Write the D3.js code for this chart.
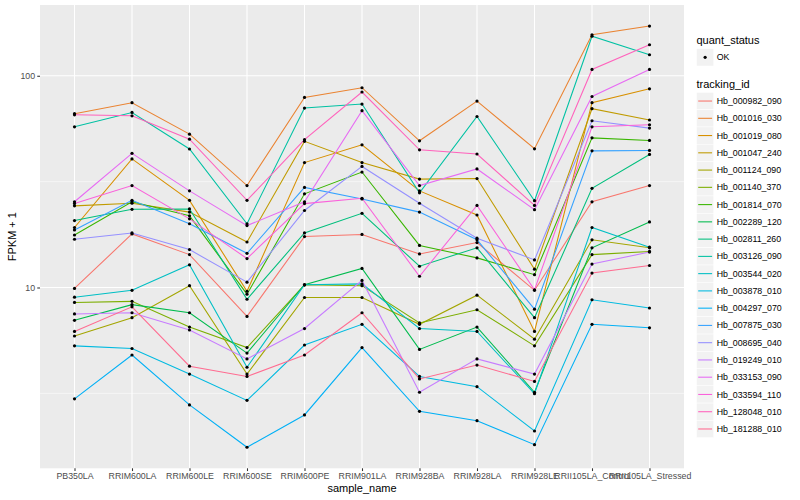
<!DOCTYPE html>
<html>
<head>
<meta charset="utf-8">
<script src="https://cdn.jsdelivr.net/npm/d3@7"></script>
<style>
  body { margin: 0; background: #fff; }
  svg { display: block; font-family: "Liberation Sans", Arial, Helvetica, sans-serif; }
</style>
</head>
<body>
<svg id="chart" width="800" height="500"></svg>
<script>
const samples = ["PB350LA", "RRIM600LA", "RRIM600LE", "RRIM600SE", "RRIM600PE", "RRIM901LA",
  "RRIM928BA", "RRIM928LA", "RRIM928LE", "RRII105LA_Control", "RRII105LA_Stressed"];

const trackingIds = ["Hb_000982_090", "Hb_001016_030", "Hb_001019_080", "Hb_001047_240",
  "Hb_001124_090", "Hb_001140_370", "Hb_001814_070", "Hb_002289_120", "Hb_002811_260",
  "Hb_003126_090", "Hb_003544_020", "Hb_003878_010", "Hb_004297_070", "Hb_007875_030",
  "Hb_008695_040", "Hb_019249_010", "Hb_033153_090", "Hb_033594_110", "Hb_128048_010",
  "Hb_181288_010"];

// ggplot default hue palette for 20 levels
const lineColors = ["#F8766D", "#EA8331", "#D89000", "#C09B00", "#A3A500", "#7CAE00",
  "#39B600", "#00BB4E", "#00BF7D", "#00C1A3", "#00BFC4", "#00BAE0", "#00B0F6", "#35A2FF",
  "#9590FF", "#C77CFF", "#E76BF3", "#FA62DB", "#FF62BC", "#FF6C91"];

const quantStatus = ["OK"];

// FPKM + 1, one row per tracking id, one column per sample
const fpkmPlus1 = [
  [9.9, 17.9, 14.3, 7.3, 17.4, 17.8, 14.4, 16.3, 9.7, 25.4, 30.3],
  [66.2, 74.6, 53.0, 30.3, 79.0, 87.8, 49.3, 75.9, 45.2, 156.2, 171.7],
  [19.2, 40.5, 25.8, 9.6, 38.9, 47.2, 28.6, 22.0, 6.2, 74.6, 86.8],
  [24.3, 25.0, 22.7, 16.4, 49.0, 38.9, 32.5, 32.7, 12.2, 69.9, 61.8],
  [5.9, 7.2, 10.2, 3.9, 8.97, 8.97, 6.7, 9.2, 5.7, 16.8, 15.4],
  [8.5, 8.6, 6.5, 5.2, 10.3, 10.2, 6.8, 7.85, 5.3, 14.3, 14.8],
  [17.7, 25.4, 21.8, 9.3, 27.7, 35.1, 15.8, 13.8, 11.5, 50.9, 49.5],
  [7.0, 8.3, 7.6, 4.9, 10.3, 12.3, 5.1, 6.5, 3.2, 15.4, 20.4],
  [20.7, 23.4, 23.5, 8.8, 18.1, 22.4, 12.6, 15.4, 7.2, 29.4, 42.5],
  [57.4, 67.1, 45.1, 20.0, 70.4, 73.5, 28.0, 64.2, 25.7, 153.7, 125.7],
  [9.0, 9.7, 12.8, 4.2, 10.3, 10.4, 6.4, 6.2, 3.15, 19.2, 15.5],
  [5.3, 5.15, 3.9, 2.93, 5.35, 6.7, 3.8, 3.4, 2.1, 8.75, 8.0],
  [2.98, 4.8, 2.79, 1.76, 2.5, 5.2, 2.6, 2.35, 1.81, 6.7, 6.45],
  [18.7, 25.8, 20.0, 14.5, 29.7, 26.2, 22.7, 16.8, 7.9, 44.2, 44.4],
  [16.9, 18.1, 15.1, 10.6, 23.1, 37.3, 25.0, 17.1, 13.5, 61.3, 56.6],
  [7.5, 7.6, 6.3, 4.6, 6.4, 10.8, 3.2, 4.6, 3.9, 12.9, 14.7],
  [25.4, 43.0, 28.6, 19.6, 25.4, 68.4, 30.3, 36.3, 23.3, 79.8, 107.1],
  [24.9, 30.3, 21.1, 13.7, 24.9, 26.4, 11.3, 24.4, 9.75, 57.4, 58.7],
  [65.4, 64.7, 50.2, 25.8, 49.9, 83.8, 44.7, 42.7, 24.4, 107.1, 140.1],
  [6.2, 8.1, 4.25, 3.8, 4.8, 7.6, 3.7, 4.3, 3.6, 11.7, 12.7]
];

const yMajor = [10, 100];
const yMinor = [Math.pow(10, 0.5), Math.pow(10, 1.5)];

const panel = { left: 40, right: 684, top: 5, bottom: 468.3 };
const svg = d3.select("#chart");

const x = d3.scalePoint()
  .domain(samples)
  .range([panel.left, panel.right])
  .padding(0.6);

// log scale with ggplot-like 5% expansion in log space
const logExt = d3.extent(fpkmPlus1.flat()).map(Math.log10);
const pad = (logExt[1] - logExt[0]) * 0.05;
const y = d3.scaleLog()
  .domain([Math.pow(10, logExt[0] - pad), Math.pow(10, logExt[1] + pad)])
  .range([panel.bottom, panel.top]);

const color = d3.scaleOrdinal().domain(trackingIds).range(lineColors);

// panel background + grid
svg.append("rect")
  .attr("x", panel.left)
  .attr("y", panel.top)
  .attr("width", panel.right - panel.left)
  .attr("height", panel.bottom - panel.top)
  .attr("fill", "#EBEBEB");

const grid = svg.append("g");
grid.selectAll(".minor")
  .data(yMinor)
  .join("line")
  .attr("x1", panel.left).attr("x2", panel.right)
  .attr("y1", (d) => y(d)).attr("y2", (d) => y(d))
  .attr("stroke", "#fff").attr("stroke-width", 0.53);
grid.selectAll(".major")
  .data(yMajor)
  .join("line")
  .attr("x1", panel.left).attr("x2", panel.right)
  .attr("y1", (d) => y(d)).attr("y2", (d) => y(d))
  .attr("stroke", "#fff").attr("stroke-width", 1.07);
grid.selectAll(".vx")
  .data(samples)
  .join("line")
  .attr("x1", (d) => x(d)).attr("x2", (d) => x(d))
  .attr("y1", panel.top).attr("y2", panel.bottom)
  .attr("stroke", "#fff").attr("stroke-width", 1.07);

// series
const series = trackingIds.map((id, i) => ({
  id,
  values: fpkmPlus1[i].map((v, j) => ({ sample: samples[j], value: v })),
}));

const line = d3.line()
  .x((d) => x(d.sample))
  .y((d) => y(d.value));

const plot = svg.append("g");
plot.selectAll("path")
  .data(series)
  .join("path")
  .attr("d", (d) => line(d.values))
  .attr("fill", "none")
  .attr("stroke", (d) => color(d.id))
  .attr("stroke-width", 1.07);

plot.selectAll("circle")
  .data(series.flatMap((s) => s.values))
  .join("circle")
  .attr("cx", (d) => x(d.sample))
  .attr("cy", (d) => y(d.value))
  .attr("r", 1.6)
  .attr("fill", "#000");

// axes
function styleAxis(g) {
  g.select(".domain").remove();
  g.selectAll(".tick line").attr("stroke", "#333").attr("stroke-width", 1.07);
  g.selectAll(".tick text").attr("fill", "#4D4D4D").style("font-size", "8.8px");
}

svg.append("g")
  .attr("transform", `translate(${panel.left},0)`)
  .call(d3.axisLeft(y).tickValues(yMajor).tickFormat(d3.format("d")).tickSize(2.75).tickPadding(2.2))
  .call(styleAxis);

svg.append("g")
  .attr("transform", `translate(0,${panel.bottom})`)
  .call(d3.axisBottom(x).tickSize(2.75).tickPadding(2.2))
  .call(styleAxis);

svg.append("text")
  .attr("transform", `translate(12,${(panel.top + panel.bottom) / 2}) rotate(-90)`)
  .attr("text-anchor", "middle")
  .attr("dy", "0.35em")
  .style("font-size", "11px")
  .text("FPKM + 1");

svg.append("text")
  .attr("x", (panel.left + panel.right) / 2)
  .attr("y", 488.5)
  .attr("text-anchor", "middle")
  .attr("dy", "0.35em")
  .style("font-size", "11px")
  .text("sample_name");

// legends
const keySize = 17.28;
const legendX = 696.5;
const legend = svg.append("g");

legend.append("text")
  .attr("x", legendX).attr("y", 40).attr("dy", "0.35em")
  .style("font-size", "11px")
  .text("quant_status");

const qKey = legend.selectAll(".qkey")
  .data(quantStatus)
  .join("g")
  .attr("transform", (d, i) => `translate(${legendX},${48.7 + i * keySize})`);
qKey.append("rect")
  .attr("width", keySize).attr("height", keySize)
  .attr("fill", "#F2F2F2").attr("stroke", "#fff").attr("stroke-width", 0.5);
qKey.append("circle")
  .attr("cx", keySize / 2).attr("cy", keySize / 2).attr("r", 1.6).attr("fill", "#000");
qKey.append("text")
  .attr("x", 20.2).attr("y", keySize / 2).attr("dy", "0.35em")
  .style("font-size", "8.8px")
  .text((d) => d);

legend.append("text")
  .attr("x", legendX).attr("y", 84.3).attr("dy", "0.35em")
  .style("font-size", "11px")
  .text("tracking_id");

const tKey = legend.selectAll(".tkey")
  .data(trackingIds)
  .join("g")
  .attr("transform", (d, i) => `translate(${legendX},${92.4 + i * 17.26})`);
tKey.append("rect")
  .attr("width", keySize).attr("height", keySize)
  .attr("fill", "#F2F2F2").attr("stroke", "#fff").attr("stroke-width", 0.5);
tKey.append("line")
  .attr("x1", 1.7).attr("x2", keySize - 1.7)
  .attr("y1", keySize / 2).attr("y2", keySize / 2)
  .attr("stroke", (d) => color(d)).attr("stroke-width", 1.07);
tKey.append("text")
  .attr("x", 20.2).attr("y", keySize / 2).attr("dy", "0.35em")
  .style("font-size", "8.8px")
  .text((d) => d);
</script>
</body>
</html>
